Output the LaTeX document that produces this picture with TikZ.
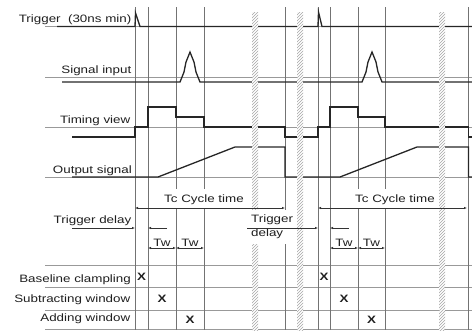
\documentclass[tikz,border=0pt]{standalone}
\usepackage{fontspec}
\setmainfont[FakeStretch=1.25]{Liberation Sans}
\usetikzlibrary{arrows.meta, patterns}

\begin{document}
\begin{tikzpicture}[
    x=1pt, y=-1pt,
    lbl/.style={font=\fontsize{10.7}{14}\selectfont, text=black!88, inner sep=0pt},
    xmark/.style={font=\fontsize{10.7}{14}\selectfont\bfseries, text=black!88, inner sep=0pt},
    gridline/.style={draw=black!40, line width=0.6pt},
    timeline/.style={draw=black!55, line width=0.8pt},
    wave/.style={draw=black!85, line width=1.3pt},
    dim/.style={draw=black!80, line width=0.6pt},
    brk/.style={fill=white, postaction={pattern=north east lines, pattern color=black!35}},
    >={Latex[length=3pt,width=2.4pt]}
]
\useasboundingbox (0,0) rectangle (472,330);

% Thin grid lines under the labels and rows
\draw[gridline] (45,26.5) -- (472,26.5);
\draw[gridline] (45,77) -- (472,77);
\draw[gridline] (45,127) -- (472,127);
\draw[gridline] (45,177) -- (472,177);
\draw[gridline] (45,265) -- (472,265);
\draw[gridline] (45,287.5) -- (472,287.5);
\draw[gridline] (45,310) -- (472,310);
\draw[gridline] (45,329) -- (472,329);

% Time marks
\draw[timeline] (135,7) -- (135,330);
\draw[timeline] (148,7) -- (148,330);
\draw[timeline] (176,7) -- (176,330);
\draw[timeline] (204,7) -- (204,330);
\draw[timeline] (285,7) -- (285,330);
\draw[timeline] (318,7) -- (318,330);
\draw[timeline] (330,7) -- (330,330);
\draw[timeline] (358,7) -- (358,330);
\draw[timeline] (385,7) -- (385,330);
\draw[timeline] (468.5,7) -- (468.5,330);

% Trigger
\draw[wave] (57,26.5) -- (135,26.5) -- (135.5,13) -- (140,26.5) -- (318,26.5)
    -- (318.5,12) -- (322,26.5) -- (472,26.5);

% Signal input (one pulse per cycle)
\draw[wave] (62,82) -- (180,82) -- (184,72) -- (186,62) -- (190,52) -- (194,62)
    -- (196,72) -- (200,82) -- (362,82) -- (366,72) -- (368,62) -- (372,52)
    -- (376,62) -- (378,72) -- (382,82) -- (472,82);

% Timing view
\draw[wave] (72,137) -- (135,137) -- (135,127) -- (148,127) -- (148,107)
    -- (176,107) -- (176,117) -- (204,117) -- (204,127) -- (285,127)
    -- (285,137) -- (318,137) -- (318,127) -- (330,127) -- (330,107)
    -- (358,107) -- (358,117) -- (385,117) -- (385,127) -- (468.5,127)
    -- (468.5,137) -- (472,137);

% Output signal
\draw[wave] (72,177) -- (158,177) -- (235,147) -- (285,147) -- (285,177)
    -- (340,177) -- (417,147) -- (468.5,147) -- (468.5,177) -- (472,177);

% Time breaks
\path[brk] (252,12) rectangle (258,330);
\path[brk] (297,12) rectangle (303,330);
\path[brk] (439,12) rectangle (445,330);

% Row labels
\node[lbl, anchor=base east] (trig)   at (131.5,22)  {Trigger\ \ (30ns min)};
\node[lbl, anchor=base east] (sigin)  at (131.5,73)  {Signal input};
\node[lbl, anchor=base east] (timing) at (130.5,123) {Timing view};
\node[lbl, anchor=base east] (outsig) at (132,173)   {Output signal};
\node[lbl, anchor=base east] (tdel1)  at (131.5,223) {Trigger delay};
\node[lbl, anchor=base east] (clamp)  at (131,282)   {Baseline clampling};
\node[lbl, anchor=base east] (subw)   at (130.5,302) {Subtracting window};
\node[lbl, anchor=base east] (addw)   at (130.5,321) {Adding window};

% Dimension labels
\node[lbl, fill=white, inner xsep=1pt, inner ysep=5pt, anchor=base] (tc1) at (204,202) {Tc Cycle time};
\node[lbl, fill=white, inner xsep=1pt, inner ysep=5pt, anchor=base] (tc2) at (395,202) {Tc Cycle time};
\node[lbl, fill=white, align=left, inner xsep=2pt, inner ysep=5pt, anchor=north west] (tdel2) at (249,210) {Trigger\\delay};
\node[lbl, anchor=base] (tw1) at (162,246.5) {Tw};
\node[lbl, anchor=base] (tw2) at (190,246.5) {Tw};
\node[lbl, anchor=base] (tw3) at (344,246.5) {Tw};
\node[lbl, anchor=base] (tw4) at (371.5,246.5) {Tw};

% Dimension arrows
\draw[dim, <->] (135,208) -- (285,208);
\draw[dim, <->] (318,208) -- (467,208);
\draw[dim, ->] (72,228) -- (135,228);
\draw[dim, ->] (167,228) -- (148,228);
\draw[dim, ->] (247,228) -- (318,228);
\draw[dim, ->] (349,228) -- (330,228);
\draw[dim, <->] (148,248) -- (176,248);
\draw[dim, <->] (176,248) -- (204,248);
\draw[dim, <->] (330,248) -- (358,248);
\draw[dim, <->] (358,248) -- (385,248);

% Active windows
\node[xmark] (x1) at (141.5,277) {X};
\node[xmark] (x2) at (162,299) {X};
\node[xmark] (x3) at (190,319.5) {X};
\node[xmark] (x4) at (324,276.5) {X};
\node[xmark] (x5) at (344,298.5) {X};
\node[xmark] (x6) at (371.5,319.5) {X};

\end{tikzpicture}
\end{document}
